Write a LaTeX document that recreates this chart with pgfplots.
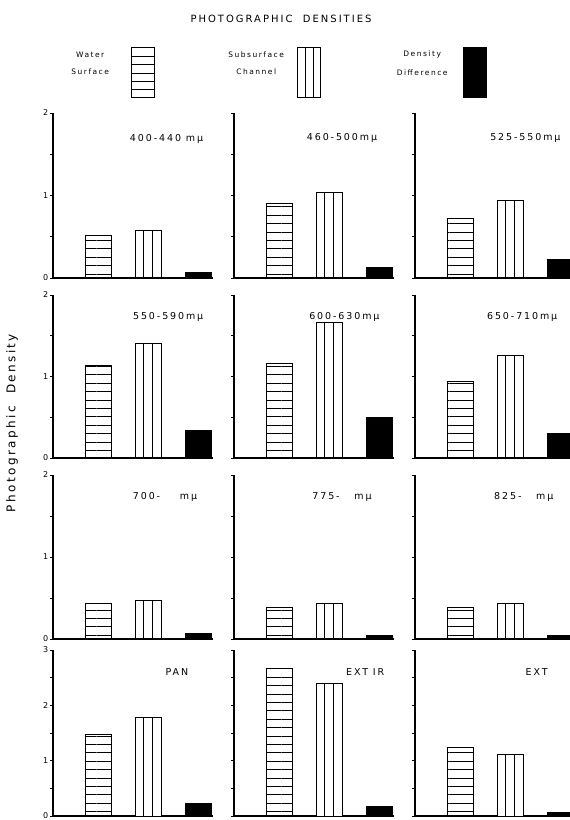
\documentclass[border=0pt]{standalone}
\usepackage{fontspec}
\setmainfont{DejaVu Sans}[LetterSpace=20]
\usepackage{pgfplots}
\pgfplotsset{compat=1.18}
\usetikzlibrary{patterns.meta}
\tikzset{plab/.style={font=\fontsize{9.5}{10}\selectfont, anchor=center}}
\pgfplotsset{
  panel/.style={
    scale only axis, width=160pt, anchor=south west,
    xmin=-0.9, xmax=2.3, ymin=0,
    axis x line*=bottom, axis y line*=left,
    axis line style={-, line width=1.1pt, black},
    xtick=\empty, tick align=outside, major tick length=3pt,
    tick style={line width=0.7pt, black},
    yticklabel style={font=\fontsize{8}{8}\selectfont, inner sep=1.5pt},
    /pgf/number format/assume math mode=true,
  },
  rowA/.style={height=165pt, ymax=2, ytick={0,0.5,...,2}},
  rowB/.style={height=163pt, ymax=2, ytick={0,0.5,...,2}},
  rowC/.style={height=164pt, ymax=2, ytick={0,0.5,...,2}},
  rowD/.style={height=166pt, ymax=3, ytick={0,0.5,...,3}},
  lab2/.style={yticklabels={0,,1,,2}},
  lab3/.style={yticklabels={0,,1,,2,,3}},
  nolab/.style={yticklabels={}},
  ws/.style={ybar, bar width=26pt, bar shift=0pt, draw=black, line width=1pt,
    pattern={Lines[angle=0,distance=8.4pt,line width=0.9pt]}, pattern color=black},
  scA/.style={ybar, bar width=8.667pt, bar shift=-8.667pt, draw=black, fill=white, line width=1pt},
  scB/.style={ybar, bar width=8.667pt, bar shift=0pt, draw=black, fill=white, line width=1pt},
  scC/.style={ybar, bar width=8.667pt, bar shift=8.667pt, draw=black, fill=white, line width=1pt},
  dd/.style={ybar, bar width=26pt, bar shift=0pt, draw=black, fill=black, line width=1pt},
}
\begin{document}
\begin{tikzpicture}[x=1pt,y=1pt]
\useasboundingbox (0pt,0pt) rectangle (570pt,820pt);

\node[font=\fontsize{10}{11}\selectfont] at (281pt,801pt) {PHOTOGRAPHIC\ \ DENSITIES};
\node[rotate=90, font=\fontsize{12}{13}\selectfont] at (12pt,397pt) {Photographic\ \ Density};

% legend
\begin{axis}[hide axis, scale only axis, width=570pt, height=820pt, at={(0pt,0pt)}, anchor=south west,
  xmin=0, xmax=1, ymin=0, ymax=1, legend plot pos=right, legend columns=3,
  legend style={draw=none, fill=none, inner sep=0pt, at={(0.10526,0.91098)}, anchor=west,
    nodes={inner sep=0pt}, font=\fontsize{7.5}{9}\selectfont,
    /tikz/every odd column/.append style={column sep=11pt},
    /tikz/every even column/.append style={column sep=71pt}}]
\addlegendimage{legend image code/.code={
  \draw[line width=1pt] (0pt,-25pt) rectangle (23pt,25pt);
  \foreach \yy in {-16.67,-8.33,0,8.33,16.67} {\draw[line width=0.9pt] (0pt,\yy pt) -- (23pt,\yy pt);}
}}
\addlegendentry{\makebox[60pt][c]{\raisebox{18pt}{\shortstack{Water\\[8pt]Surface}}}}
\addlegendimage{legend image code/.code={
  \draw[line width=1pt] (0pt,-25pt) rectangle (23pt,25pt);
  \draw[line width=0.9pt] (7.67pt,-25pt) -- (7.67pt,25pt);
  \draw[line width=0.9pt] (15.33pt,-25pt) -- (15.33pt,25pt);
}}
\addlegendentry{\makebox[60pt][c]{\raisebox{18pt}{\shortstack{Subsurface\\[8pt]Channel}}}}
\addlegendimage{legend image code/.code={
  \draw[line width=1pt, fill=black] (0pt,-25pt) rectangle (23pt,25pt);
}}
\addlegendentry{\makebox[60pt][c]{\raisebox{18pt}{\shortstack{Density\\[8pt]Difference}}}}
\end{axis}

% ---------- row 1
\begin{axis}[panel, rowA, lab2, at={(53pt,542pt)}]
\addplot[ws] coordinates {(0,0.52)};
\addplot[scA] coordinates {(1,0.58)};
\addplot[scB] coordinates {(1,0.58)};
\addplot[scC] coordinates {(1,0.58)};
\addplot[dd] coordinates {(2,0.07)};
\node[plab] at (axis description cs:0.71,0.84) {400-440 mμ};
\end{axis}
\begin{axis}[panel, rowA, nolab, at={(234pt,542pt)}]
\addplot[ws] coordinates {(0,0.905)};
\addplot[scA] coordinates {(1,1.04)};
\addplot[scB] coordinates {(1,1.04)};
\addplot[scC] coordinates {(1,1.04)};
\addplot[dd] coordinates {(2,0.13)};
\node[plab] at (axis description cs:0.675,0.85) {460-500mμ};
\end{axis}
\begin{axis}[panel, rowA, nolab, at={(415pt,542pt)}]
\addplot[ws] coordinates {(0,0.72)};
\addplot[scA] coordinates {(1,0.94)};
\addplot[scB] coordinates {(1,0.94)};
\addplot[scC] coordinates {(1,0.94)};
\addplot[dd] coordinates {(2,0.22)};
\node[plab] at (axis description cs:0.69,0.85) {525-550mμ};
\end{axis}

% ---------- row 2
\begin{axis}[panel, rowB, lab2, at={(53pt,362pt)}]
\addplot[ws] coordinates {(0,1.14)};
\addplot[scA] coordinates {(1,1.40)};
\addplot[scB] coordinates {(1,1.40)};
\addplot[scC] coordinates {(1,1.40)};
\addplot[dd] coordinates {(2,0.335)};
\node[plab] at (axis description cs:0.72,0.865) {550-590mμ};
\end{axis}
\begin{axis}[panel, rowB, nolab, at={(234pt,362pt)}]
\addplot[ws] coordinates {(0,1.16)};
\addplot[scA] coordinates {(1,1.665)};
\addplot[scB] coordinates {(1,1.665)};
\addplot[scC] coordinates {(1,1.665)};
\addplot[dd] coordinates {(2,0.50)};
\node[plab] at (axis description cs:0.69,0.865) {600-630mμ};
\end{axis}
\begin{axis}[panel, rowB, nolab, at={(415pt,362pt)}]
\addplot[ws] coordinates {(0,0.94)};
\addplot[scA] coordinates {(1,1.255)};
\addplot[scB] coordinates {(1,1.255)};
\addplot[scC] coordinates {(1,1.255)};
\addplot[dd] coordinates {(2,0.295)};
\node[plab] at (axis description cs:0.67,0.865) {650-710mμ};
\end{axis}

% ---------- row 3
\begin{axis}[panel, rowC, lab2, at={(53pt,181pt)}]
\addplot[ws] coordinates {(0,0.435)};
\addplot[scA] coordinates {(1,0.47)};
\addplot[scB] coordinates {(1,0.47)};
\addplot[scC] coordinates {(1,0.47)};
\addplot[dd] coordinates {(2,0.07)};
\node[plab] at (axis description cs:0.70,0.865) {700-\ \ \ \ mμ};
\end{axis}
\begin{axis}[panel, rowC, nolab, at={(234pt,181pt)}]
\addplot[ws] coordinates {(0,0.385)};
\addplot[scA] coordinates {(1,0.435)};
\addplot[scB] coordinates {(1,0.435)};
\addplot[scC] coordinates {(1,0.435)};
\addplot[dd] coordinates {(2,0.045)};
\node[plab] at (axis description cs:0.675,0.865) {775-\ \ \ mμ};
\end{axis}
\begin{axis}[panel, rowC, nolab, at={(415pt,181pt)}]
\addplot[ws] coordinates {(0,0.38)};
\addplot[scA] coordinates {(1,0.435)};
\addplot[scB] coordinates {(1,0.435)};
\addplot[scC] coordinates {(1,0.435)};
\addplot[dd] coordinates {(2,0.045)};
\node[plab] at (axis description cs:0.68,0.865) {825-\ \ \ mμ};
\end{axis}

% ---------- row 4
\begin{axis}[panel, rowD, lab3, at={(53pt,4pt)}]
\addplot[ws] coordinates {(0,1.48)};
\addplot[scA] coordinates {(1,1.78)};
\addplot[scB] coordinates {(1,1.78)};
\addplot[scC] coordinates {(1,1.78)};
\addplot[dd] coordinates {(2,0.22)};
\node[plab] at (axis description cs:0.775,0.87) {PAN};
\end{axis}
\begin{axis}[panel, rowD, nolab, at={(234pt,4pt)}]
\addplot[ws] coordinates {(0,2.66)};
\addplot[scA] coordinates {(1,2.39)};
\addplot[scB] coordinates {(1,2.39)};
\addplot[scC] coordinates {(1,2.39)};
\addplot[dd] coordinates {(2,0.17)};
\node[plab] at (axis description cs:0.82,0.87) {EXT IR};
\end{axis}
\begin{axis}[panel, rowD, nolab, at={(415pt,4pt)}]
\addplot[ws] coordinates {(0,1.23)};
\addplot[scA] coordinates {(1,1.11)};
\addplot[scB] coordinates {(1,1.11)};
\addplot[scC] coordinates {(1,1.11)};
\addplot[dd] coordinates {(2,0.07)};
\node[plab] at (axis description cs:0.76,0.87) {EXT};
\end{axis}
\end{tikzpicture}
\end{document}
